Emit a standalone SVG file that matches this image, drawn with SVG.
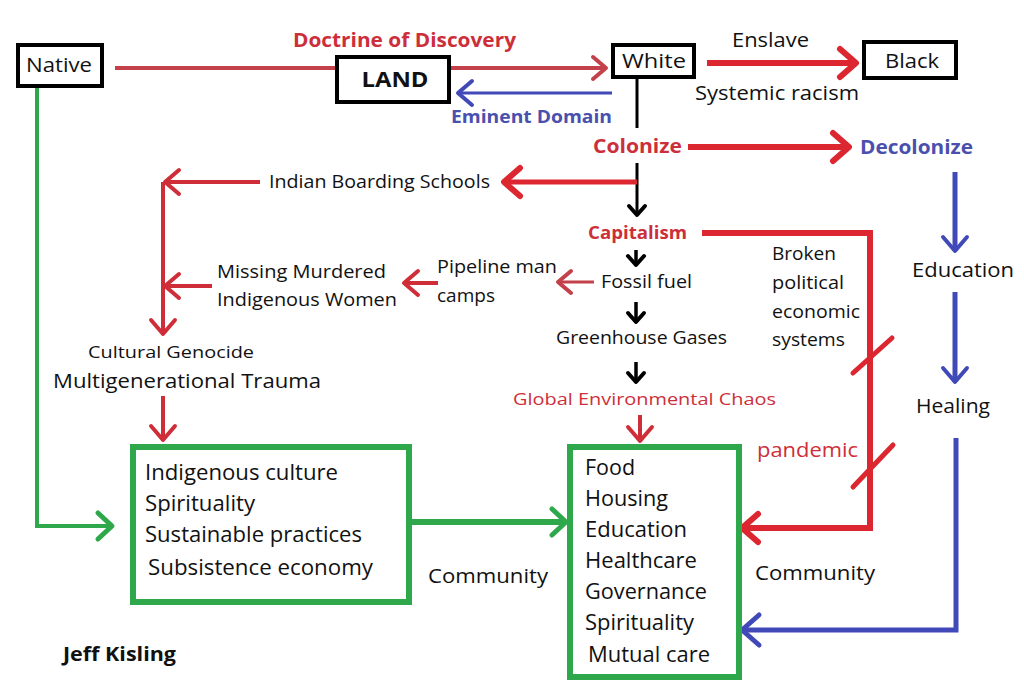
<svg xmlns="http://www.w3.org/2000/svg" width="1024" height="697" viewBox="0 0 1024 697">
<style>
text{font-family:"Open Sans","Noto Sans","Liberation Sans",sans-serif;fill:#111;dominant-baseline:central}
.b{font-weight:bold}
.red{fill:#cd2f3a}
.blue{fill:#4a50ad}
.box{fill:#fff;stroke:#000;stroke-width:4}
.gbox{fill:#fff;stroke:#2fa84b;stroke-width:6}
.ln{fill:none;stroke-linecap:butt;stroke-linejoin:miter}
.dr{stroke:#c3414a;stroke-width:4}
.br{stroke:#dc2630;stroke-width:6}
.mr{stroke:#cf2d38;stroke-width:4}
.bl{stroke:#4149b8;stroke-width:5}
.bk{stroke:#000;stroke-width:3}
.gr{stroke:#2fa84b;stroke-width:5}
</style>
<defs>
<marker id="hDr" markerUnits="userSpaceOnUse" overflow="visible" orient="auto" refX="0" refY="0" markerWidth="1" markerHeight="1"><path d="M-13,-11 L0,0 L-13,11" fill="none" stroke="#c3414a" stroke-width="4" stroke-linejoin="round" stroke-linecap="round"/></marker>
<marker id="hBr" markerUnits="userSpaceOnUse" overflow="visible" orient="auto" refX="0" refY="0" markerWidth="1" markerHeight="1"><path d="M-16,-14 L0,0 L-16,14" fill="none" stroke="#dc2630" stroke-width="6" stroke-linejoin="round" stroke-linecap="round"/></marker>
<marker id="hMr" markerUnits="userSpaceOnUse" overflow="visible" orient="auto" refX="0" refY="0" markerWidth="1" markerHeight="1"><path d="M-14,-12 L0,0 L-14,12" fill="none" stroke="#cf2d38" stroke-width="4" stroke-linejoin="round" stroke-linecap="round"/></marker>
<marker id="hBl" markerUnits="userSpaceOnUse" overflow="visible" orient="auto" refX="0" refY="0" markerWidth="1" markerHeight="1"><path d="M-14,-12 L0,0 L-14,12" fill="none" stroke="#4149b8" stroke-width="4" stroke-linejoin="round" stroke-linecap="round"/></marker>
<marker id="hBlL" markerUnits="userSpaceOnUse" overflow="visible" orient="auto" refX="0" refY="0" markerWidth="1" markerHeight="1"><path d="M-17,-15 L0,0 L-17,15" fill="none" stroke="#4149b8" stroke-width="5" stroke-linejoin="round" stroke-linecap="round"/></marker>
<marker id="hBk" markerUnits="userSpaceOnUse" overflow="visible" orient="auto" refX="0" refY="0" markerWidth="1" markerHeight="1"><path d="M-9,-8 L0,0 L-9,8" fill="none" stroke="#000" stroke-width="4" stroke-linejoin="round" stroke-linecap="round"/></marker>
<marker id="hGr" markerUnits="userSpaceOnUse" overflow="visible" orient="auto" refX="0" refY="0" markerWidth="1" markerHeight="1"><path d="M-14,-13 L0,0 L-14,13" fill="none" stroke="#2fa84b" stroke-width="5" stroke-linejoin="round" stroke-linecap="round"/></marker>
</defs>
<rect width="1024" height="697" fill="#fff"/>

<g id="connectors">
<line class="ln dr" x1="115" y1="68" x2="335" y2="68"/>
<line class="ln dr" x1="450" y1="68" x2="606" y2="68" marker-end="url(#hDr)"/>
<line class="ln bl" style="stroke-width:3" x1="612" y1="93" x2="458" y2="93" marker-end="url(#hBl)"/>
<line class="ln br" x1="707" y1="63" x2="856" y2="63" marker-end="url(#hBr)"/>
<line class="ln bk" x1="637" y1="77" x2="637" y2="128"/>
<line class="ln bk" x1="637" y1="163" x2="637" y2="215" marker-end="url(#hBk)"/>
<line class="ln br" x1="688" y1="147" x2="849" y2="147" marker-end="url(#hBr)"/>
<line class="ln br" style="stroke-width:5" x1="637" y1="182" x2="504" y2="182" marker-end="url(#hBr)"/>
<line class="ln mr" x1="260" y1="182" x2="165" y2="182" marker-end="url(#hMr)"/>
<line class="ln mr" x1="163" y1="182" x2="163" y2="334" marker-end="url(#hMr)"/>
<line class="ln mr" x1="212" y1="286" x2="165" y2="286" marker-end="url(#hMr)"/>
<line class="ln mr" x1="438" y1="283" x2="404" y2="283" marker-end="url(#hMr)"/>
<line class="ln dr" style="stroke-width:3" x1="594" y1="282" x2="558" y2="282" marker-end="url(#hDr)"/>
<line class="ln bk" style="stroke-width:3.5" x1="636" y1="250" x2="636" y2="265" marker-end="url(#hBk)"/>
<line class="ln bk" style="stroke-width:3.5" x1="636" y1="302" x2="636" y2="322" marker-end="url(#hBk)"/>
<line class="ln bk" style="stroke-width:3.5" x1="636" y1="362" x2="636" y2="382" marker-end="url(#hBk)"/>
<line class="ln mr" x1="640" y1="415" x2="640" y2="441" marker-end="url(#hMr)"/>
<line class="ln mr" x1="163" y1="396" x2="163" y2="440" marker-end="url(#hMr)"/>
<polyline class="ln br" points="702,233 870,233 870,528 742,528" marker-end="url(#hBr)"/>
<line class="ln br" style="stroke-width:5;stroke-linecap:round" x1="853" y1="373" x2="892" y2="338"/>
<line class="ln br" style="stroke-width:5;stroke-linecap:round" x1="853" y1="487" x2="893" y2="445"/>
<line class="ln bl" x1="955" y1="172" x2="955" y2="251" marker-end="url(#hBl)"/>
<line class="ln bl" x1="955" y1="292" x2="955" y2="382" marker-end="url(#hBl)"/>
<polyline class="ln bl" points="956,438 956,630 742,630" marker-end="url(#hBlL)"/>
<polyline class="ln gr" style="stroke-width:4" points="37,86 37,526 112,526" marker-end="url(#hGr)"/>
<line class="ln gr" style="stroke-width:6" x1="410" y1="522" x2="566" y2="522" marker-end="url(#hGr)"/>
</g>

<g id="native"><rect class="box" x="18" y="45" width="84" height="41"/><text x="59" y="64" font-size="20" text-anchor="middle" textLength="66" lengthAdjust="spacingAndGlyphs">Native</text></g>
<g id="land"><rect class="box" x="337" y="57" width="112" height="45"/><text class="b" x="395" y="78" font-size="22" text-anchor="middle" textLength="67" lengthAdjust="spacingAndGlyphs">LAND</text></g>
<g id="white"><rect class="box" x="613" y="45" width="81" height="32"/><text x="654" y="60" font-size="20" text-anchor="middle" textLength="64" lengthAdjust="spacingAndGlyphs">White</text></g>
<g id="black"><rect class="box" x="864" y="42" width="92" height="36"/><text x="912" y="60" font-size="20" text-anchor="middle" textLength="54" lengthAdjust="spacingAndGlyphs">Black</text></g>

<g id="labels-top">
<text class="b red" x="293" y="39" font-size="20" textLength="223" lengthAdjust="spacingAndGlyphs">Doctrine of Discovery</text>
<text class="b blue" x="451" y="116" font-size="18" textLength="161" lengthAdjust="spacingAndGlyphs">Eminent Domain</text>
<text x="732" y="39" font-size="20" textLength="77" lengthAdjust="spacingAndGlyphs">Enslave</text>
<text x="695" y="92" font-size="20" textLength="164" lengthAdjust="spacingAndGlyphs">Systemic racism</text>
</g>

<g id="colonize"><text class="b red" x="593" y="146" font-size="19" textLength="89" lengthAdjust="spacingAndGlyphs">Colonize</text></g>
<g id="decolonize"><text class="b blue" x="860" y="146" font-size="20" textLength="113" lengthAdjust="spacingAndGlyphs">Decolonize</text></g>
<g id="boarding"><text x="269" y="181" font-size="18" textLength="221" lengthAdjust="spacingAndGlyphs">Indian Boarding Schools</text></g>
<g id="capitalism"><text class="b red" x="588" y="232" font-size="18" textLength="99" lengthAdjust="spacingAndGlyphs">Capitalism</text></g>
<g id="mmiw"><text x="217" y="271" font-size="18" textLength="169" lengthAdjust="spacingAndGlyphs">Missing Murdered</text><text x="217" y="299" font-size="18" textLength="180" lengthAdjust="spacingAndGlyphs">Indigenous Women</text></g>
<g id="pipeline"><text x="437" y="266" font-size="18" textLength="120" lengthAdjust="spacingAndGlyphs">Pipeline man</text><text x="437" y="295" font-size="18" textLength="58" lengthAdjust="spacingAndGlyphs">camps</text></g>
<g id="fossil"><text x="601" y="281" font-size="18" textLength="91" lengthAdjust="spacingAndGlyphs">Fossil fuel</text></g>
<g id="greenhouse"><text x="556" y="337" font-size="18" textLength="171" lengthAdjust="spacingAndGlyphs">Greenhouse Gases</text></g>
<g id="chaos"><text class="red" x="513" y="398" font-size="17" textLength="263" lengthAdjust="spacingAndGlyphs">Global Environmental Chaos</text></g>
<g id="broken">
<text x="772" y="253" font-size="18" textLength="64" lengthAdjust="spacingAndGlyphs">Broken</text>
<text x="772" y="282" font-size="18" textLength="72" lengthAdjust="spacingAndGlyphs">political</text>
<text x="772" y="311" font-size="18" textLength="88" lengthAdjust="spacingAndGlyphs">economic</text>
<text x="772" y="339" font-size="18" textLength="73" lengthAdjust="spacingAndGlyphs">systems</text>
</g>
<g id="pandemic"><text class="red" x="757" y="449" font-size="20" textLength="101" lengthAdjust="spacingAndGlyphs">pandemic</text></g>
<g id="education"><text x="912" y="269" font-size="20" textLength="102" lengthAdjust="spacingAndGlyphs">Education</text></g>
<g id="healing"><text x="916" y="405" font-size="20" textLength="74" lengthAdjust="spacingAndGlyphs">Healing</text></g>
<g id="genocide"><text x="88" y="351" font-size="17" textLength="166" lengthAdjust="spacingAndGlyphs">Cultural Genocide</text><text x="53" y="380" font-size="20" textLength="268" lengthAdjust="spacingAndGlyphs">Multigenerational Trauma</text></g>

<g id="indigenous-box">
<rect class="gbox" x="133" y="447" width="276" height="155"/>
<text x="145" y="472" font-size="21" textLength="193" lengthAdjust="spacingAndGlyphs">Indigenous culture</text>
<text x="145" y="503" font-size="21" textLength="110" lengthAdjust="spacingAndGlyphs">Spirituality</text>
<text x="145" y="534" font-size="21" textLength="217" lengthAdjust="spacingAndGlyphs">Sustainable practices</text>
<text x="148" y="567" font-size="21" textLength="225" lengthAdjust="spacingAndGlyphs">Subsistence economy</text>
</g>
<g id="community-left"><text x="428" y="575" font-size="20" textLength="120" lengthAdjust="spacingAndGlyphs">Community</text></g>
<g id="community-box">
<rect class="gbox" x="570" y="447" width="169" height="230"/>
<text x="585" y="467" font-size="21" textLength="50" lengthAdjust="spacingAndGlyphs">Food</text>
<text x="585" y="498" font-size="21" textLength="83" lengthAdjust="spacingAndGlyphs">Housing</text>
<text x="585" y="529" font-size="21" textLength="102" lengthAdjust="spacingAndGlyphs">Education</text>
<text x="585" y="560" font-size="21" textLength="112" lengthAdjust="spacingAndGlyphs">Healthcare</text>
<text x="585" y="591" font-size="21" textLength="122" lengthAdjust="spacingAndGlyphs">Governance</text>
<text x="585" y="622" font-size="21" textLength="109" lengthAdjust="spacingAndGlyphs">Spirituality</text>
<text x="588" y="654" font-size="21" textLength="122" lengthAdjust="spacingAndGlyphs">Mutual care</text>
</g>
<g id="community-right"><text x="755" y="572" font-size="20" textLength="120" lengthAdjust="spacingAndGlyphs">Community</text></g>
<g id="author"><text class="b" x="63" y="653" font-size="20" textLength="113" lengthAdjust="spacingAndGlyphs">Jeff Kisling</text></g>
</svg>
